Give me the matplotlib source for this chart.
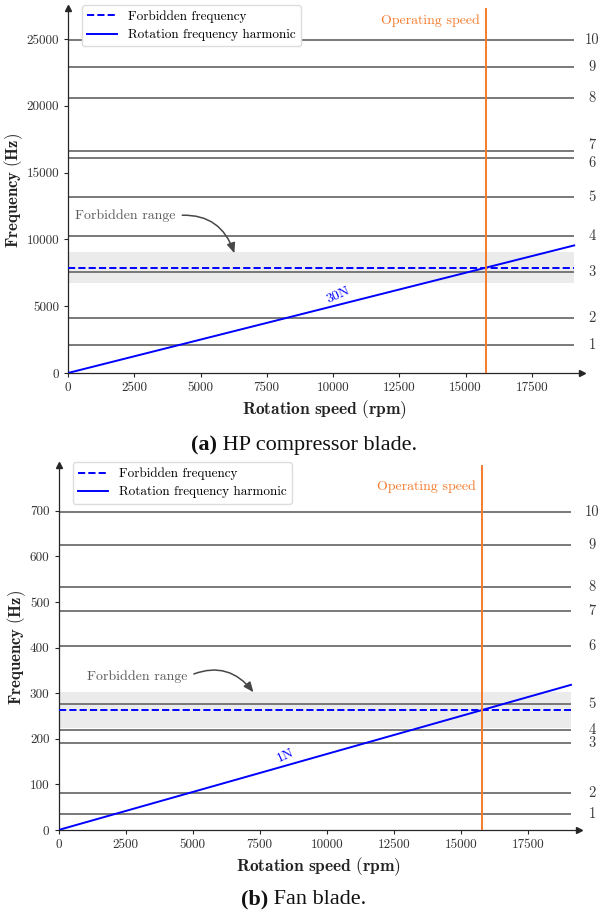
import numpy as np
import matplotlib
matplotlib.use("Agg")
import matplotlib.pyplot as plt
from matplotlib import transforms

plt.rcParams["font.family"] = "serif"
plt.rcParams["font.serif"] = ["cmr10"]
plt.rcParams["mathtext.fontset"] = "cm"
plt.rcParams["axes.formatter.use_mathtext"] = True

# shared operating point (rpm) and end of the speed sweep
operating_speed = 15780
speed_end = 19100
forbidden_margin = 0.15

# natural frequencies of the first ten modes (Hz)
hp_modes = [2096, 4139, 7560, 10277, 13174, 16093, 16640, 20606, 22904, 24925]
hp_order = 30
fan_modes = [34.4, 80.4, 190.8, 219, 275.6, 404, 480, 533.6, 625, 698]
fan_order = 1

speed_ticks = [0, 2500, 5000, 7500, 10000, 12500, 15000, 17500]
hp_freq_ticks = [0, 5000, 10000, 15000, 20000, 25000]
fan_freq_ticks = [0, 100, 200, 300, 400, 500, 600, 700]

BLUE = "#0000ff"
ORANGE = "#f47b2c"
GREY = "#6e6e6e"
DARK = "#262626"


def spread_labels(values, px_per_unit, min_px=12, target_px=18):
    pos = list(values)
    for i in range(1, len(pos)):
        if (pos[i] - pos[i - 1]) * px_per_unit < min_px:
            mid = (pos[i] + pos[i - 1]) / 2
            half = target_px / px_per_unit / 2
            pos[i - 1] = mid - half
            pos[i] = mid + half
    return pos


def draw_panel(fig, rect, modes, order, ytop, yticks, note_pos, note_tip,
               order_xy, op_text_y):
    ax = fig.add_axes(rect)
    ax.set_xlim(0, 19380)
    ax.set_ylim(0, ytop)

    forbidden = order * operating_speed / 60
    speeds = np.array([0, speed_end])

    ax.fill_between(speeds, forbidden * (1 - forbidden_margin),
                    forbidden * (1 + forbidden_margin),
                    color="#ebebeb", lw=0, zorder=0)
    ax.hlines(modes, 0, speed_end, color=GREY, lw=1.3, zorder=1)
    ax.hlines(forbidden, 0, speed_end, color=BLUE, lw=1.4, ls="--",
              zorder=3, label="Forbidden frequency")
    ax.plot(speeds, order * speeds / 60, color=BLUE, lw=1.4, zorder=3,
            label="Rotation frequency harmonic")
    ax.axvline(operating_speed, color=ORANGE, lw=1.4, zorder=4)

    ax.text(operating_speed - 240, op_text_y, "Operating speed", color=ORANGE,
            fontsize=10, ha="right", va="center")
    ax.text(order_xy[0], order_xy[1], f"{order}N", color=BLUE, fontsize=10,
            rotation=24, ha="center", va="center", rotation_mode="anchor")

    ax.annotate("Forbidden range", xy=note_tip, xytext=note_pos,
                color="#5a5a5a", fontsize=10, ha="left", va="center",
                arrowprops=dict(arrowstyle="-|>,head_width=0.25,head_length=0.6",
                                color="#474747", lw=1.1, relpos=(1, 0.5),
                                connectionstyle="arc3,rad=-0.4",
                                shrinkA=3, shrinkB=0))

    # mode numbers at the right edge of the figure
    fig_w, fig_h = fig.get_size_inches() * fig.dpi
    px_per_unit = rect[3] * fig_h / ytop
    label_y = spread_labels(modes, px_per_unit)
    trans = transforms.blended_transform_factory(fig.transFigure, ax.transData)
    for i, y in enumerate(label_y):
        ax.text(592 / fig_w, y, str(i + 1), transform=trans, color="#3a3a3a",
                fontsize=10.5, ha="center", va="center", clip_on=False)

    for side in ["top", "right"]:
        ax.spines[side].set_visible(False)
    for side in ["left", "bottom"]:
        ax.spines[side].set_color(DARK)
        ax.spines[side].set_linewidth(0.9)
    ax.plot(1, 0, ">", color=DARK, ms=4.5, transform=ax.get_yaxis_transform(),
            clip_on=False)
    ax.plot(0, 1, "^", color=DARK, ms=4.5, transform=ax.get_xaxis_transform(),
            clip_on=False)

    ax.set_xticks(speed_ticks, labels=[str(t) for t in speed_ticks])
    ax.set_yticks(yticks, labels=[str(t) for t in yticks])
    ax.tick_params(labelsize=9.5, length=3, width=0.8, color=DARK,
                   labelcolor="#333333")
    ax.set_xlabel(r"$\mathbf{Rotation\ speed\ (rpm)}$", fontsize=12.5,
                  labelpad=3, color="#222222")
    ax.set_ylabel(r"$\mathbf{Frequency\ (Hz)}$", fontsize=12, labelpad=1,
                  color="#222222")

    ax.legend(loc="upper left", bbox_to_anchor=(0.027, 1.008), borderaxespad=0,
              fontsize=9.5, handlelength=2.3, handletextpad=0.8,
              labelspacing=0.45, framealpha=1, edgecolor="#dddddd",
              fancybox=True)
    return ax


def caption(fig, x_px, y_px, tag, body):
    fig_w, fig_h = fig.get_size_inches() * fig.dpi
    r = fig.canvas.get_renderer()
    kw = dict(fontsize=16, family="Liberation Serif", va="center",
              color="#111111")
    t1 = fig.text(0, 1 - y_px / fig_h, tag, weight="bold", **kw)
    t2 = fig.text(0, 1 - y_px / fig_h, body, **kw)
    w1 = t1.get_window_extent(r).width
    w2 = t2.get_window_extent(r).width
    x0 = x_px - (w1 + w2) / 2
    t1.set_x(x0 / fig_w)
    t2.set_x((x0 + w1) / fig_w)


fig = plt.figure(figsize=(6, 9.15), dpi=100)

draw_panel(fig, [68 / 600, 542 / 915, 513.6 / 600, 365 / 915], hp_modes,
           hp_order, 27320, hp_freq_ticks, (263, 11774), (6278, 8960),
           (10190, 5850), 26350)

draw_panel(fig, [58.5 / 600, 85 / 915, 520 / 600, 364.8 / 915], fan_modes,
           fan_order, 800, fan_freq_ticks, (1057, 336), (7267, 302),
           (8470, 162), 753)

caption(fig, 304, 445.7, "(a)", " HP compressor blade.")
caption(fig, 304, 899, "(b)", " Fan blade.")

fig.savefig("out.png", dpi=100)
